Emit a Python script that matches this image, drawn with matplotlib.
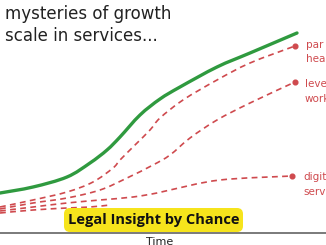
import matplotlib
matplotlib.use("Agg")
import matplotlib.pyplot as plt
from matplotlib.patches import FancyBboxPatch, PathPatch
from matplotlib.path import Path

# Data: time (x) and value (y), in chart units
green_t = [0, 33, 67, 90, 107, 120, 140, 160, 180, 217, 250, 297]
green_v = [52, 58, 68, 82, 95, 108, 130, 146, 158, 178, 192, 212]

partner_t = [0, 33, 67, 93, 113, 120, 135, 150, 160, 183, 217, 250, 295]
partner_v = [38, 45, 53, 63, 77, 85, 100, 115, 127, 145, 165, 182, 199]

leverage_t = [0, 33, 67, 100, 127, 153, 170, 190, 217, 250, 295]
leverage_v = [36, 42, 47, 55, 67, 80, 90, 107, 125, 142, 163]

digital_t = [0, 33, 67, 100, 133, 157, 170, 220, 292]
digital_v = [34, 38, 42, 45, 48, 52, 55, 65, 69]

fourth_t = [0, 33, 67, 90, 110]
fourth_v = [32, 35, 37, 38, 40]

# end labels: (line1, line2, x, baseline1, baseline2)
end_labels = [("par", "hea", 306, 197, 183),
              ("leve", "work", 305, 158, 143),
              ("digit", "serv", 303, 65, 50)]

title_lines = ["mysteries of growth", "scale in services..."]
banner = "Legal Insight by Chance"
xlabel = "Time"

red = "#cf4a4e"
green = "#2f9a3f"


def smooth_path(t, v):
    """Catmull-Rom spline through the given points as cubic Bezier path."""
    pts = list(zip(t, v))
    verts = [pts[0]]
    codes = [Path.MOVETO]
    n = len(pts)
    for i in range(n - 1):
        p0 = pts[i - 1] if i > 0 else pts[i]
        p1 = pts[i]
        p2 = pts[i + 1]
        p3 = pts[i + 2] if i + 2 < n else pts[i + 1]
        c1 = (p1[0] + (p2[0] - p0[0]) / 6.0, p1[1] + (p2[1] - p0[1]) / 6.0)
        c2 = (p2[0] - (p3[0] - p1[0]) / 6.0, p2[1] - (p3[1] - p1[1]) / 6.0)
        verts += [c1, c2, p2]
        codes += [Path.CURVE4] * 3
    return Path(verts, codes)


fig = plt.figure(figsize=(3.26, 2.45), dpi=100)
ax = fig.add_axes([0, 0, 1, 1])
ax.set_xlim(0, 326)
ax.set_ylim(0, 245)
ax.axis("off")

ax.add_patch(PathPatch(smooth_path(green_t, green_v), facecolor="none",
                       edgecolor=green, lw=2.4, capstyle="round", zorder=3))
for t, v in [(partner_t, partner_v), (leverage_t, leverage_v),
             (digital_t, digital_v), (fourth_t, fourth_v)]:
    pp = PathPatch(smooth_path(t, v), facecolor="none", edgecolor=red, lw=1.2,
                   linestyle=(0, (3.5, 2.6)), zorder=2)
    ax.add_patch(pp)
for t, v in [(partner_t, partner_v), (leverage_t, leverage_v), (digital_t, digital_v)]:
    ax.plot(t[-1], v[-1], "o", color=red, ms=3.4, zorder=3)

for l1, l2, x, b1, b2 in end_labels:
    ax.text(x, b1, l1, color=red, fontsize=7.5, va="baseline", ha="left", zorder=4)
    ax.text(x, b2, l2, color=red, fontsize=7.5, va="baseline", ha="left", zorder=4)

ax.text(5, 226, title_lines[0], fontsize=12, color="#222222", va="baseline", ha="left")
ax.text(5, 204, title_lines[1], fontsize=12, color="#222222", va="baseline", ha="left")

# axis line
ax.axhline(12, color="#7a7a7a", lw=1.4, zorder=1)
ax.text(160, 8, xlabel, fontsize=8, color="#222222", ha="center", va="top")

# banner
box = FancyBboxPatch((64, 13), 179, 24,
                     boxstyle="round,pad=0,rounding_size=6",
                     facecolor="#f6e41c", edgecolor="none", zorder=5)
ax.add_patch(box)
ax.text(153.5, 25, banner, fontsize=10.5, fontweight="bold", family="Open Sans",
        color="#111111", ha="center", va="center", zorder=6)

fig.savefig("out.png", dpi=100)
